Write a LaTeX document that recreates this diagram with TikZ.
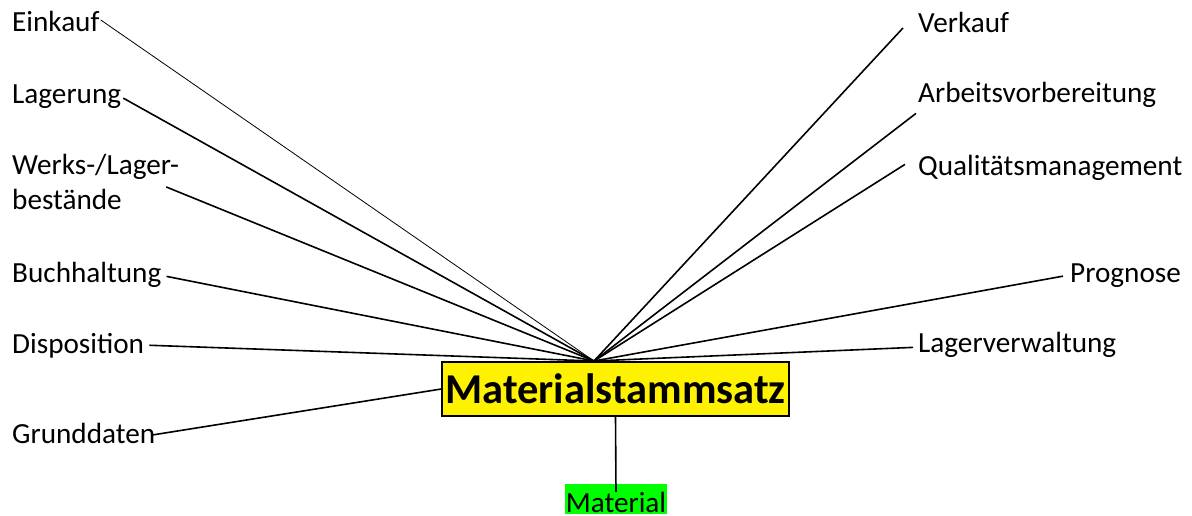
\documentclass[tikz,border=0pt]{standalone}
\usepackage{fontspec}
\setmainfont{Carlito}
\usepackage{tikz}
\usetikzlibrary{positioning}
\definecolor{hlgreen}{RGB}{0,255,0}
\tikzset{lbl/.style={inner sep=0pt,anchor=base west,font=\fontsize{29.2}{35}\selectfont}}
\tikzset{stamm/.style={rectangle,draw=black,line width=1.5pt,fill=yellow,inner sep=0pt,minimum width=347pt,minimum height=54pt,font=\fontsize{42.5}{50}\selectfont\bfseries}}
\tikzset{mat/.style={rectangle,fill=hlgreen,inner sep=0pt,minimum width=102pt,text height=28pt,text depth=2pt,font=\fontsize{29.2}{35}\selectfont}}
\tikzset{con/.style={line width=1.6pt}}
\tikzset{thin con/.style={line width=0.8pt}}

\begin{document}
\begin{tikzpicture}[x=1pt,y=-1pt]
\useasboundingbox (0,0) rectangle (1192,515);
  \coordinate (hub) at (594,361);
  \node[stamm] (ms) at (615.5,389) {Materialstammsatz};
  \node[mat] (mat) at (616,499) {Material};

  % left side
  \node[lbl] (ek) at (12,31) {Einkauf};
  \node[lbl] (lg) at (12,103) {Lagerung};
  \node[lbl,anchor=north west,align=left] (wl) at (12,154) {Werks-/Lager-\\bestände};
  \node[lbl] (bh) at (12,282) {Buchhaltung};
  \node[lbl] (dp) at (12,353) {Disposition};
  \node[lbl] (gd) at (12,443) {Grunddaten};

  % right side
  \node[lbl] (vk) at (918,32) {Verkauf};
  \node[lbl] (av) at (918,102) {Arbeitsvorbereitung};
  \node[lbl] (qm) at (918,175) {Qualitätsmanagement};
  \node[lbl] (pg) at (1070,282) {Prognose};
  \node[lbl] (lv) at (918,352) {Lagerverwaltung};

  \draw[thin con] ([xshift=1pt,yshift=1pt]ek.east) -- (hub);
  \draw[con] ([xshift=2pt,yshift=-2pt]lg.east) -- (hub);
  \draw[con] ([xshift=-13pt,yshift=-5pt]wl.east) -- (hub);
  \draw[con] ([xshift=5pt,yshift=-2pt]bh.east) -- (hub);
  \draw[con] ([xshift=5pt]dp.east) -- (hub);
  \draw[con] ([xshift=-3pt,yshift=-2pt]gd.east) -- (ms.west);

  \draw[con] ([xshift=-15pt,yshift=-6pt]vk.west) -- (hub);
  \draw[con] ([xshift=-2pt,yshift=-19pt]av.west) -- (hub);
  \draw[con] ([xshift=-13pt,yshift=3pt]qm.west) -- (hub);
  \draw[con] ([xshift=-7pt,yshift=-1pt]pg.west) -- (hub);
  \draw[con] ([xshift=-5pt,yshift=-3pt]lv.west) -- (hub);

  \draw[con] (ms.south) -- ([yshift=-8pt]mat.north);
\end{tikzpicture}
\end{document}
